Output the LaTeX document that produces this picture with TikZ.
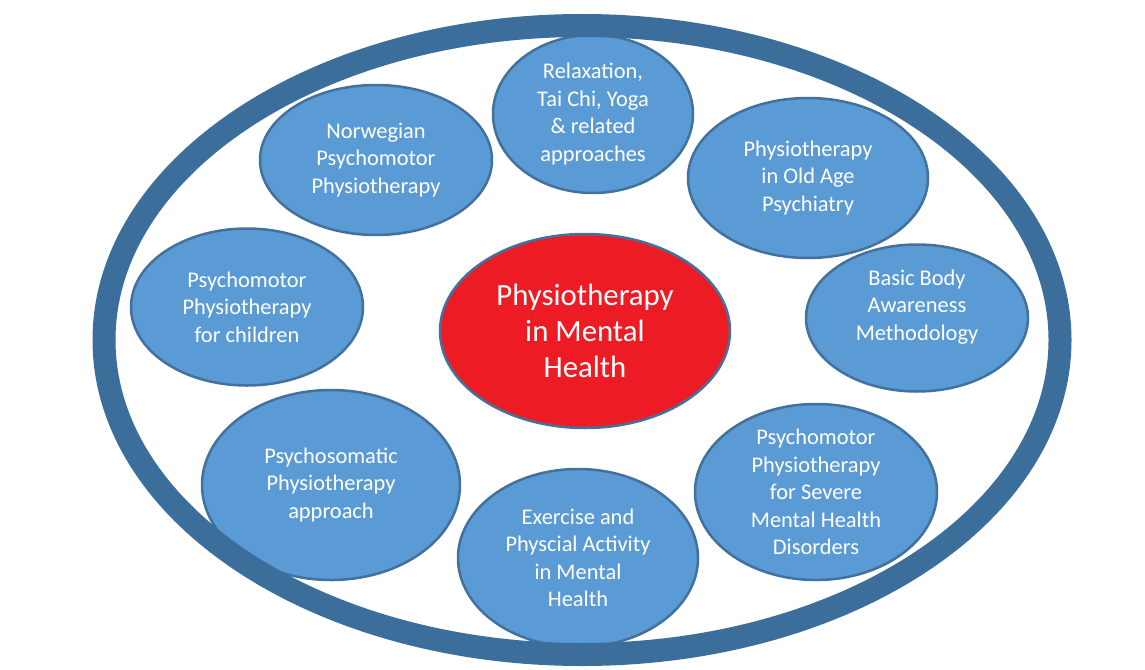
\documentclass[tikz,border=0pt]{standalone}
\usepackage{fontspec}
\setmainfont{Carlito}
\usepackage{tikz}
\usetikzlibrary{shapes.geometric}
\definecolor{ringblue}{RGB}{59,110,155}
\definecolor{bubbleblue}{RGB}{91,155,213}
\definecolor{edgeblue}{RGB}{65,113,156}
\definecolor{corered}{RGB}{237,28,36}

\begin{document}
\begin{tikzpicture}[
    x=1pt, y=-1pt,
    label text/.style={text=white, align=center, font=\fontsize{22.4}{27.5}\selectfont},
    bubble/.style={ellipse, draw=edgeblue, fill=bubbleblue, line width=2.5pt, label text, inner sep=0pt, inner ysep=-8pt},
    core/.style={bubble, fill=corered, font=\fontsize{30.8}{36}\selectfont},
    ring/.style={ellipse, draw=ringblue, line width=23pt, minimum width=956pt, minimum height=629pt, inner sep=0pt}
]
\path[use as bounding box, fill=white] (0,0) rectangle (1145,669);

% Centre: the topic
\node[core, minimum width=290pt, minimum height=194pt] (centre) at (585,331) {Physiotherapy\\in Mental\\Health};

% Surrounding approaches, clockwise from the top
\node[bubble, minimum width=200pt, minimum height=158pt] (relax) at (593,114) {Relaxation,\\Tai Chi, Yoga\\\& related\\approaches};
\node[bubble, minimum width=240pt, minimum height=160pt] (oldage) at (808,178) {Physiotherapy\\in Old Age\\Psychiatry};
\node[bubble, minimum width=222pt, minimum height=147pt] (basicbody) at (917,318) {};
\node[label text] (basicbody-text) at (917,307) {Basic Body\\Awareness\\Methodology};
\node[bubble, minimum width=242pt, minimum height=176pt] (severe) at (816,492) {Psychomotor\\Physiotherapy\\for Severe\\Mental Health\\Disorders};
\node[bubble, minimum width=240pt, minimum height=178pt] (exercise) at (578,558) {Exercise and\\Physcial Activity\\in Mental\\Health};
\node[bubble, minimum width=258pt, minimum height=190pt] (psychosomatic) at (331,485) {Psychosomatic\\Physiotherapy\\approach};
\node[bubble, minimum width=232pt, minimum height=157pt] (children) at (247,307) {Psychomotor\\Physiotherapy\\for children};
\node[bubble, minimum width=232pt, minimum height=150pt] (norwegian) at (376,160) {Norwegian\\Psychomotor\\Physiotherapy};

% Outer frame
\node[ring] (frame) at (582,340) {};

\end{tikzpicture}
\end{document}
